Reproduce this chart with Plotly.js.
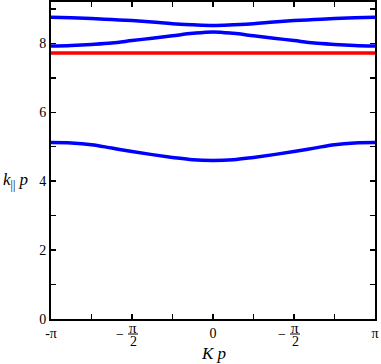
<!DOCTYPE html>
<html>
<head>
<meta charset="utf-8">
<script src="https://cdn.plot.ly/plotly-3.0.1.min.js"></script>
<style>
  html, body { margin: 0; padding: 0; background: #fff; }
  #root { width: 381px; height: 364px; }
</style>
</head>
<body>
<div id="root"></div>
<script>
// Kp sampled at steps of pi/8
const kp = [-3.1416, -2.7489, -2.3562, -1.9635, -1.5708, -1.1781, -0.7854, -0.3927, 0,
            0.3927, 0.7854, 1.1781, 1.5708, 1.9635, 2.3562, 2.7489, 3.1416];

// k|| p (symmetric about 0)
const band1 = [5.12, 5.11, 5.06, 4.96, 4.86, 4.77, 4.69, 4.62, 4.60,
               4.62, 4.69, 4.77, 4.86, 4.96, 5.06, 5.11, 5.12];
const band2 = [7.92, 7.94, 7.97, 8.01, 8.08, 8.15, 8.22, 8.29, 8.33,
               8.29, 8.22, 8.15, 8.08, 8.01, 7.97, 7.94, 7.92];
const band3 = [8.76, 8.74, 8.72, 8.69, 8.66, 8.62, 8.57, 8.54, 8.52,
               8.54, 8.57, 8.62, 8.66, 8.69, 8.72, 8.74, 8.76];
const flatX = [-3.1416, 3.1416];
const flatY = [7.72, 7.72];

const xTickVals = [-3.1416, -2.3562, -1.5708, -0.7854, 0, 0.7854, 1.5708, 2.3562, 3.1416];
const xTickText = ['-π', '', '', '', '0', '', '', '', 'π'];
const fracTicks = [-1.5708, 1.5708];   // both drawn as "−π/2" in the original
const yTickVals = [0, 1, 2, 3, 4, 5, 6, 7, 8, 9];
const yTickText = ['0', '', '2', '', '4', '', '6', '', '8', ''];

const serif = '"Liberation Serif", "Times New Roman", serif';
const blue = '#0000ff';

function bandTrace(ys) {
    return {
        x: kp, y: ys, mode: 'lines', type: 'scatter',
        line: { color: blue, width: 3.5, shape: 'spline', smoothing: 1 },
        hoverinfo: 'skip'
    };
}

const traces = [
    bandTrace(band1),
    bandTrace(band2),
    bandTrace(band3),
    {
        x: flatX, y: flatY, mode: 'lines', type: 'scatter',
        line: { color: '#ff0000', width: 3.5 },
        hoverinfo: 'skip'
    }
];

// fraction tick labels: "−", "π", bar, "2"
const annotations = [];
const shapes = [];
fracTicks.forEach(v => {
    annotations.push({ x: v, y: 0, xref: 'x', yref: 'paper', text: 'π', showarrow: false,
        yanchor: 'middle', yshift: -9, xshift: 1, font: { family: serif, size: 15, color: '#000' } });
    annotations.push({ x: v, y: 0, xref: 'x', yref: 'paper', text: '2', showarrow: false,
        yanchor: 'middle', yshift: -22, xshift: 1, font: { family: serif, size: 14, color: '#000' } });
    annotations.push({ x: v, y: 0, xref: 'x', yref: 'paper', text: '−', showarrow: false,
        yanchor: 'middle', yshift: -15, xshift: -12, font: { family: serif, size: 14, color: '#000' } });
    shapes.push({ type: 'line', xref: 'x', yref: 'paper', xsizemode: 'pixel', ysizemode: 'pixel',
        xanchor: v, yanchor: 0, x0: -4, x1: 6, y0: -15, y1: -15,
        line: { color: '#000', width: 1 } });
});

// axis titles
annotations.push({ x: 0, y: 0, xref: 'x', yref: 'paper', text: '<i>K p</i>', showarrow: false,
    yanchor: 'middle', yshift: -34, font: { family: serif, size: 17, color: '#000' } });
annotations.push({ x: 0, y: 4, xref: 'paper', yref: 'y', text: '<i>k</i><sub>||</sub> <i>p</i>',
    showarrow: false, xanchor: 'center', yanchor: 'middle', xshift: -36,
    font: { family: serif, size: 17, color: '#000' } });

const axisCommon = {
    showline: true, linecolor: '#000', linewidth: 2, mirror: 'allticks',
    ticks: 'inside', ticklen: 5, tickwidth: 1.5, tickcolor: '#000',
    showgrid: false, zeroline: false, tickmode: 'array',
    tickfont: { family: serif, size: 14, color: '#000' }
};

const layout = {
    width: 381, height: 364,
    margin: { l: 51, r: 6, t: 2, b: 45 },
    paper_bgcolor: '#fff', plot_bgcolor: '#fff',
    showlegend: false,
    xaxis: Object.assign({}, axisCommon, {
        range: [-3.1416, 3.1416], tickvals: xTickVals, ticktext: xTickText
    }),
    yaxis: Object.assign({}, axisCommon, {
        range: [0, 9.2], tickvals: yTickVals, ticktext: yTickText
    }),
    annotations: annotations,
    shapes: shapes
};

Plotly.newPlot('root', traces, layout, { displayModeBar: false, staticPlot: true });
</script>
</body>
</html>
